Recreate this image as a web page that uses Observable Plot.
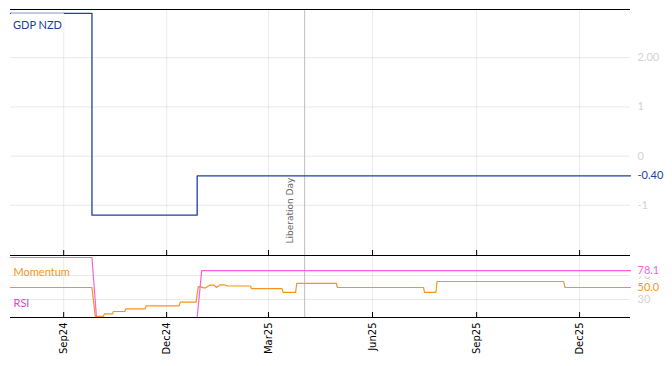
<!DOCTYPE html>
<html>
<head>
<meta charset="utf-8">
<script src="https://cdn.jsdelivr.net/npm/d3@7"></script>
<script src="https://cdn.jsdelivr.net/npm/@observablehq/plot@0.6"></script>
<style>
  html, body { margin: 0; padding: 0; background: white; }
  #wrap { position: relative; width: 672px; height: 366px; overflow: hidden; }
  #wrap svg { position: absolute; left: 0; overflow: visible; background: transparent; }
  #gdpLabel { position: absolute; left: 11px; top: 13px; width: 53px; height: 19px;
    background: rgba(255,255,255,0.7); color: #1a3d9e; font: 11px Lato, sans-serif;
    line-height: 24px; padding-left: 2px; box-sizing: border-box; overflow: visible; }
</style>
</head>
<body>
<div id="wrap"></div>
<script>
// ---- data ----
const xStart = "2024-07-16";
const xEnd = "2026-01-15";
const monthTicks = ["2024-09-01", "2024-12-01", "2025-03-01", "2025-06-01", "2025-09-01", "2025-12-01"];
const monthLabels = ["Sep24", "Dec24", "Mar25", "Jun25", "Sep25", "Dec25"];
const libDay = "2025-04-02";

const gdpDates = ["2024-07-16", "2024-09-26", "2024-12-28", "2026-01-15"];
const gdpValues = [2.9, -1.2, -0.4, -0.4];
const gdpTicks = [2, 1, 0, -1];
const gdpTickLabels = ["2.00", "1", "0", "-1"];

const rsiDates = ["2024-07-16", "2024-09-26", "2024-09-30", "2024-12-28", "2025-01-01", "2026-01-15"];
const rsiValues = [100, 100, 0, 0, 78.1, 78.1];

const momDates = [
  "2024-07-16", "2024-09-26", "2024-09-29", "2024-10-01", "2024-10-06", "2024-10-07",
  "2024-10-14", "2024-10-15", "2024-10-25", "2024-10-26", "2024-11-12", "2024-11-13",
  "2024-12-12", "2024-12-13", "2024-12-27", "2024-12-29", "2024-12-31", "2025-01-04",
  "2025-01-08", "2025-01-12", "2025-01-14", "2025-01-17", "2025-01-21", "2025-01-24",
  "2025-02-13", "2025-02-14", "2025-03-13", "2025-03-14", "2025-03-25", "2025-03-26",
  "2025-04-30", "2025-05-01", "2025-07-16", "2025-07-17", "2025-07-27", "2025-07-28",
  "2025-11-17", "2025-11-18", "2026-01-15"
];
const momValues = [
  50, 50, 1, 2, 2, 6,
  6, 10, 10, 14.5, 14.5, 19.5,
  19.5, 25.5, 25.5, 51.5, 51, 49,
  53.8, 54, 50, 54.2, 54.5, 52.5,
  52.5, 48, 48, 41.7, 41.7, 56.7,
  56.7, 50, 50, 41.7, 41.7, 60,
  60, 50, 50
];
const oscTicks = [70, 30];

// ---- colours ----
const blue = "#1c40a4", orange = "#f7941d", pink = "#f95fe0", rsiText = "#e23fcf";
const lightTick = "#d2d2d2";

// ---- derived tables ----
const D = s => new Date(s + "T00:00:00Z");
const gdp = gdpDates.map((d, i) => ({date: D(d), value: gdpValues[i]}));
const rsi = rsiDates.map((d, i) => ({date: D(d), value: rsiValues[i]}));
const mom = momDates.map((d, i) => ({date: D(d), value: momValues[i]}));
const ticks = monthTicks.map(D);
const labelOf = new Map(ticks.map((t, i) => [+t, monthLabels[i]]));
const gdpLabelOf = new Map(gdpTicks.map((t, i) => [t, gdpTickLabels[i]]));
const lib = [D(libDay)];
const xDomain = [D(xStart), D(xEnd)];

const W = 672, mL = 10, mR = 42;
const topH = 255, topMT = 9;
const gY = [-2.02, 2.98];
const gPx = (topH - topMT) / (gY[1] - gY[0]);
const oY = [0, 103.3];
const botH = 111, botMB = 49;
const oPx = (botH - botMB) / (oY[1] - oY[0]);

const topPlot = Plot.plot({
  width: W, height: topH, marginTop: topMT, marginBottom: 0, marginLeft: mL, marginRight: mR,
  x: {type: "utc", domain: xDomain, axis: null},
  y: {domain: gY, axis: null},
  style: {fontFamily: "Lato, sans-serif", fontSize: "11px", background: "transparent", overflow: "visible"},
  marks: [
    Plot.gridX(ticks, {stroke: "#000", strokeOpacity: 0.08}),
    Plot.gridY(gdpTicks, {stroke: "#000", strokeOpacity: 0.09}),
    Plot.axisY(gdpTicks, {anchor: "right", label: null, tickSize: 0, tickPadding: 7, color: lightTick,
      tickFormat: d => gdpLabelOf.get(d), fontSize: 11}),
    Plot.ruleX(lib, {stroke: "#bdbdbd"}),
    Plot.text(lib, {x: d => d, text: () => "Liberation Day", rotate: -90, frameAnchor: "bottom",
      textAnchor: "start", dx: -12, dy: -12, fill: "#666", fontSize: 9, fontFamily: "DejaVu Sans"}),
    Plot.line(gdp, {x: "date", y: "value", curve: "step-after", stroke: blue, strokeWidth: 1.3}),
    Plot.text([gdp[gdp.length - 1]], {x: "date", y: "value", text: d => d.value.toFixed(2),
      dx: 7, textAnchor: "start", fill: blue, fontSize: 11}),
    Plot.ruleY([gY[1]], {stroke: "#000", strokeWidth: 1}),
    Plot.ruleY([gY[0]], {stroke: "#000", strokeWidth: 1}),
    Plot.ruleX(ticks, {x: d => d, y1: gY[0], y2: gY[0] + 5 / gPx, stroke: "#000"})
  ]
});
topPlot.style.top = "0px";

const botPlot = Plot.plot({
  width: W, height: botH, marginTop: 0, marginBottom: botMB, marginLeft: mL, marginRight: mR,
  x: {type: "utc", domain: xDomain, axis: null},
  y: {domain: oY, axis: null},
  style: {fontFamily: "Lato, sans-serif", fontSize: "11px", background: "transparent", overflow: "visible"},
  marks: [
    Plot.gridX(ticks, {stroke: "#000", strokeOpacity: 0.08}),
    Plot.gridY(oscTicks, {stroke: "#000", strokeOpacity: 0.09}),
    Plot.axisY(oscTicks, {anchor: "right", label: null, tickSize: 0, tickPadding: 7, color: lightTick, fontSize: 11}),
    Plot.ruleX(lib, {stroke: "#bdbdbd"}),
    Plot.line(mom, {x: "date", y: "value", stroke: orange, strokeWidth: 1.2}),
    Plot.line(rsi, {x: "date", y: "value", stroke: pink, strokeWidth: 1.2}),
    Plot.text([rsi[rsi.length - 1]], {x: "date", y: "value", text: d => d.value.toFixed(1),
      dx: 7, textAnchor: "start", fill: pink, stroke: "white", strokeWidth: 5, paintOrder: "stroke", fontSize: 11}),
    Plot.text([mom[mom.length - 1]], {x: "date", y: "value", text: d => d.value.toFixed(1),
      dx: 7, textAnchor: "start", fill: orange, stroke: "white", strokeWidth: 3, paintOrder: "stroke", fontSize: 11}),
    Plot.text(["Momentum"], {frameAnchor: "top-left", text: d => d, dx: 3, dy: 13, fill: orange, fontSize: 11}),
    Plot.text(["RSI"], {frameAnchor: "bottom-left", text: d => d, dx: 3, dy: -11, fill: rsiText, fontSize: 11}),
    Plot.ruleY([oY[0]], {stroke: "#000"}),
    Plot.ruleY([oY[1]], {stroke: "#000"}),
    Plot.ruleX(ticks, {x: d => d, y1: oY[0], y2: oY[0] + 5 / oPx, stroke: "#000"}),
    Plot.axisX(ticks, {anchor: "bottom", label: null, tickSize: 0, tickPadding: 5, tickRotate: -90,
      tickFormat: d => labelOf.get(+d), fontFamily: "DejaVu Sans", fontSize: 10, color: "#000"})
  ]
});
botPlot.style.top = topH + "px";

const wrap = document.getElementById("wrap");
wrap.appendChild(topPlot);
wrap.appendChild(botPlot);
const lbl = document.createElement("div");
lbl.id = "gdpLabel";
lbl.textContent = "GDP NZD";
wrap.appendChild(lbl);
</script>
</body>
</html>
